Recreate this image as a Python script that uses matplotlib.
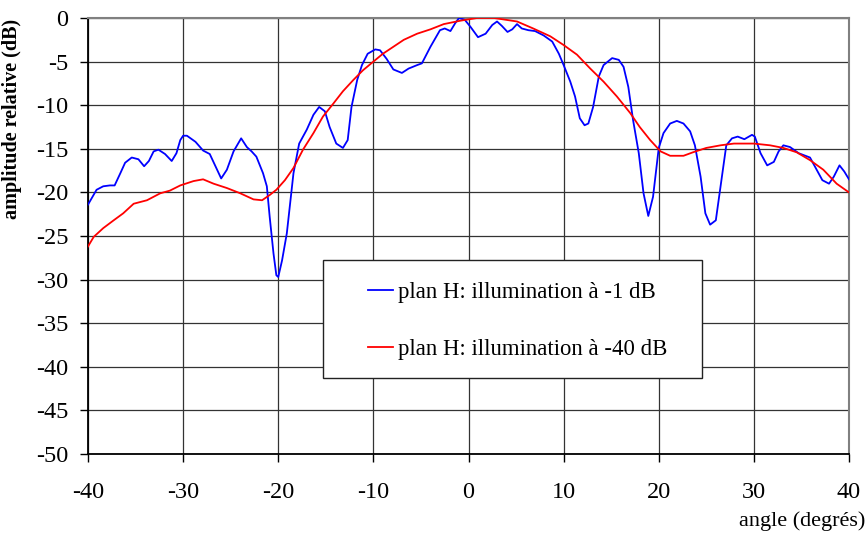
import numpy as np
import matplotlib
matplotlib.use("Agg")
import matplotlib.pyplot as plt
from matplotlib.patches import Rectangle

plt.rcParams['font.family'] = ['Liberation Serif', 'DejaVu Serif']
plt.rcParams['axes.unicode_minus'] = False

# plan H, illumination a -1 dB
angle_1dB = [-40.0, -39.1, -38.4, -37.7, -37.2, -36.6, -36.1, -35.4, -34.7, -34.1,
             -33.6, -33.1, -32.6, -31.9, -31.2, -30.7, -30.3, -30.0, -29.6, -28.7,
             -27.9, -27.2, -26.6, -26.0, -25.4, -24.7, -23.9, -23.3, -22.8, -22.3,
             -21.6, -21.2, -20.9, -20.5, -20.2, -20.0, -19.6, -19.1, -18.4, -17.8,
             -17.0, -16.3, -15.7, -15.1, -14.6, -13.9, -13.2, -12.7, -12.3, -11.7,
             -11.2, -10.6, -9.8, -9.3, -8.6, -7.9, -7.0, -6.3, -5.4, -4.9,
             -4.0, -3.0, -2.5, -1.9, -1.4, -1.0, -0.4, 0.2, 1.0, 1.8,
             2.5, 3.0, 3.5, 4.1, 4.6, 5.1, 5.6, 6.3, 7.0, 7.9,
             8.8, 9.5, 10.0, 10.7, 11.2, 11.7, 12.2, 12.6, 13.1, 13.7,
             14.2, 15.1, 15.8, 16.3, 16.8, 17.3, 17.9, 18.4, 18.9, 19.4,
             20.0, 20.5, 21.2, 21.9, 22.6, 23.3, 23.8, 24.4, 24.9, 25.4,
             26.0, 26.5, 27.1, 27.7, 28.3, 29.0, 29.8, 30.1, 30.7, 31.4,
             32.1, 32.6, 33.1, 33.8, 34.7, 35.9, 36.5, 37.2, 37.9, 38.4,
             39.0, 39.5, 40.0]
amp_1dB = [-21.4, -19.7, -19.3, -19.2, -19.2, -17.8, -16.6, -16.0, -16.2, -17.0,
           -16.4, -15.3, -15.1, -15.6, -16.4, -15.5, -14.0, -13.5, -13.5, -14.2,
           -15.2, -15.6, -17.0, -18.4, -17.4, -15.3, -13.8, -14.8, -15.3, -15.9,
           -17.8, -19.3, -22.8, -27.0, -29.5, -29.7, -27.8, -24.7, -17.8, -14.4,
           -12.8, -11.1, -10.2, -10.7, -12.5, -14.4, -14.9, -14.0, -10.2, -7.1,
           -5.4, -4.1, -3.6, -3.7, -4.7, -5.9, -6.3, -5.8, -5.4, -5.2,
           -3.3, -1.4, -1.2, -1.5, -0.6, 0.0, -0.2, -1.0, -2.2, -1.8,
           -0.8, -0.4, -0.9, -1.6, -1.3, -0.7, -1.2, -1.4, -1.5, -2.0,
           -2.7, -4.1, -5.4, -7.3, -9.0, -11.5, -12.3, -12.1, -10.2, -6.7,
           -5.4, -4.6, -4.8, -5.6, -7.9, -11.7, -15.5, -20.1, -22.7, -20.5,
           -14.9, -13.2, -12.1, -11.8, -12.1, -13.0, -14.6, -18.2, -22.4, -23.7,
           -23.2, -19.3, -14.6, -13.8, -13.6, -13.9, -13.4, -13.6, -15.5, -16.9,
           -16.5, -15.3, -14.6, -14.8, -15.5, -16.0, -17.2, -18.6, -19.0, -18.2,
           -16.9, -17.6, -18.5]

# plan H, illumination a -40 dB
angle_40dB = [-40.0, -39.4, -38.4, -37.3, -36.3, -35.2, -33.8, -32.4, -31.4, -30.3,
              -28.9, -27.9, -26.8, -25.4, -24.0, -22.6, -21.7, -20.9, -20.2, -19.3,
              -18.4, -17.4, -16.3, -15.3, -14.2, -13.2, -12.1, -11.1, -10.0, -9.0,
              -7.9, -6.8, -5.4, -4.0, -2.6, -0.8, 0.9, 2.7, 5.1, 6.8,
              8.6, 10.0, 11.4, 12.8, 14.2, 15.6, 17.0, 18.0, 19.1, 20.2,
              21.2, 22.6, 23.6, 25.0, 26.5, 27.9, 30.0, 31.7, 33.1, 34.5,
              35.9, 37.3, 38.7, 40.0]
amp_40dB = [-26.2, -25.1, -24.1, -23.2, -22.4, -21.3, -20.9, -20.1, -19.8, -19.2,
            -18.7, -18.5, -19.0, -19.5, -20.1, -20.8, -20.9, -20.3, -19.7, -18.6,
            -17.2, -15.1, -13.2, -11.3, -9.8, -8.4, -7.1, -6.0, -5.0, -4.1,
            -3.3, -2.5, -1.8, -1.3, -0.7, -0.3, 0.0, 0.0, -0.4, -1.2,
            -2.1, -3.1, -4.2, -5.8, -7.3, -9.0, -10.9, -12.5, -14.0, -15.3,
            -15.8, -15.8, -15.4, -14.9, -14.6, -14.4, -14.4, -14.6, -14.9, -15.4,
            -16.3, -17.4, -19.0, -20.0]

labels = ['plan H: illumination à -1 dB', 'plan H: illumination à -40 dB']

fig = plt.figure(figsize=(8.68, 5.36), dpi=100)
ax = fig.add_axes([88/868, 1 - 454/536, 761/868, 436/536])

ax.plot(angle_1dB, amp_1dB, color='#0000ff', lw=1.3, label=labels[0], zorder=4)
ax.plot(angle_40dB, amp_40dB, color='#ff0000', lw=1.3, label=labels[1], zorder=4)

ax.set_xlim(-40, 40)
ax.set_ylim(-50, 0)
ax.set_xticks(np.arange(-40, 41, 10))
ax.set_yticks(np.arange(-50, 1, 5))
ax.grid(True, color='#333333', lw=0.9)
ax.set_axisbelow(True)

for s in ['top', 'right']:
    ax.spines[s].set_color('#808080')
    ax.spines[s].set_linewidth(1.5)
for s in ['left', 'bottom']:
    ax.spines[s].set_color('black')
    ax.spines[s].set_linewidth(1.3)

ax.tick_params(axis='x', direction='out', length=6, width=1, pad=14, labelsize=17.5)
ax.tick_params(axis='y', direction='out', length=6, width=1, pad=8, labelsize=17.5)

ax.set_ylabel('amplitude relative (dB)', fontsize=14.5, fontweight='bold')
ax.yaxis.set_label_coords(-0.087, 0.768)
ax.set_xlabel('angle (degrés)', fontsize=16, ha='right', va='center')
ax.xaxis.set_label_coords(1.022, -0.153)

# legend box
ax.add_patch(Rectangle((0.3088, 0.174), 0.498, 0.271, transform=ax.transAxes,
                       facecolor='white', edgecolor='#222222', lw=1.0, zorder=5))
leg = ax.legend(loc='center left', bbox_to_anchor=(0.368, 0.305), frameon=False,
                fontsize=16.4, handlelength=1.1, handletextpad=0.2,
                labelspacing=1.6, borderpad=0, borderaxespad=0)
leg.set_zorder(6)

fig.savefig('out.png', dpi=100)
